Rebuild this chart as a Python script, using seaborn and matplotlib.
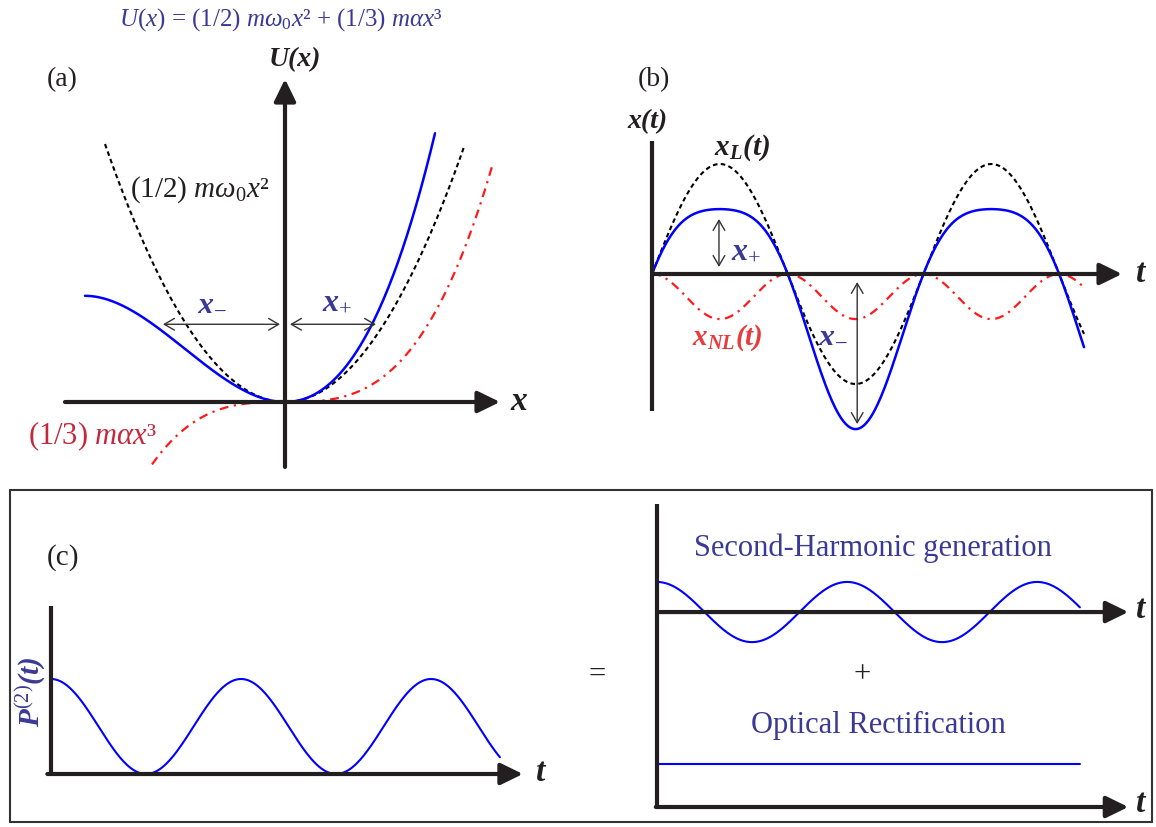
import numpy as np
import matplotlib.pyplot as plt
import seaborn as sns
from matplotlib.patches import Rectangle

# figure size in pixels
W, H = 1156, 828

# ---- (a) potential U(x) = (1/2) x^2 + (alpha/3) x^3, reduced units ----
A_ALPHA = 1.0
A_SPAN_HARM = (-0.90, 0.895)     # black dashed, harmonic part
A_SPAN_TOTAL = (-1.00, 0.75)     # blue, full potential
A_SPAN_CUBIC = (-0.665, 1.035)   # red dash-dot, cubic part
A_XMINUS = (-0.61, -0.025)       # extent of x- arrow
A_XPLUS = (0.025, 0.455)         # extent of x+ arrow
A_ARROW_LEVEL = 0.122

# ---- (b) displacement x(t) = x_L + x_NL ----
B_AMP_L = 1.0
B_AMP_NL = 0.41
B_SPAN = (0.0, 10.0)
B_SPAN_NL = (0.0, 10.0)
B_XPLUS = (1.55, 0.50, 0.064)    # t, from, to
B_XMINUS = (4.75, -0.073, -1.364)

# ---- (c) P2(t) = cos^2 t = 1/2 + 1/2 cos 2t ----
C_SPAN_P = (0.0, 7.42)
C_SPAN_R = (0.0, 6.99)
C_SHG_BASE = 2.267
C_SHG_AMP = 0.35
C_OR_LEVEL = 0.5

BLUE = '#0000ff'
RED = '#ff1a1a'
INK = '#231f20'
NAVY = '#3a3a96'

sns.set_style('white')
plt.rcParams['font.family'] = ['Liberation Serif', 'DejaVu Serif']
plt.rcParams['mathtext.fontset'] = 'custom'
plt.rcParams['mathtext.rm'] = 'Liberation Serif'
plt.rcParams['mathtext.it'] = 'Liberation Serif:italic'
plt.rcParams['mathtext.bf'] = 'Liberation Serif:bold'
plt.rcParams['mathtext.bfit'] = 'Liberation Serif:bold:italic'

fig = plt.figure(figsize=(W / 100, H / 100), dpi=100)


def panel(box, origin, sx, sy):
    # axes laid over a pixel box, data unit = sx / sy pixels
    x0, y0, x1, y1 = box
    ox, oy = origin
    ax = fig.add_axes([x0 / W, 1 - y1 / H, (x1 - x0) / W, (y1 - y0) / H])
    ax.set_xlim((x0 - ox) / sx, (x1 - ox) / sx)
    ax.set_ylim((oy - y1) / sy, (oy - y0) / sy)
    ax.axis('off')
    return ax


def curve(ax, x, y, **kw):
    sns.lineplot(x=x, y=y, ax=ax, sort=False, estimator=None, legend=False, **kw)


def axis_arrow(ax, start, tip, lw=3):
    ax.annotate('', xy=tip, xytext=start, annotation_clip=False,
                arrowprops=dict(arrowstyle='-|>,head_length=0.45,head_width=0.22',
                                mutation_scale=30, lw=lw, color=INK,
                                shrinkA=0, shrinkB=0))


def dim_arrow(ax, start, end):
    ax.annotate('', xy=end, xytext=start, annotation_clip=False,
                arrowprops=dict(arrowstyle='<->,head_length=0.6,head_width=0.35',
                                mutation_scale=12, lw=1, color='#333333',
                                shrinkA=0, shrinkB=0))


def label(x, y, s, **kw):
    kw.setdefault('ha', 'center')
    kw.setdefault('va', 'center')
    fig.text(x / W, 1 - y / H, s, **kw)


BOLD_IT = dict(fontweight='bold', style='italic')

# (a)
ax_a = panel((15, 40, 550, 485), (285, 403), 200, 637)
x = np.linspace(*A_SPAN_HARM, 300)
curve(ax_a, x, x ** 2 / 2, color='black', linewidth=1.5, linestyle=(0, (2.2, 1.6)))
x = np.linspace(*A_SPAN_TOTAL, 300)
curve(ax_a, x, x ** 2 / 2 + A_ALPHA * x ** 3 / 3, color=BLUE, linewidth=1.8)
x = np.linspace(*A_SPAN_CUBIC, 300)
curve(ax_a, x, A_ALPHA * x ** 3 / 3, color=RED, linewidth=1.6,
      linestyle=(0, (4, 2.5, 1, 2.5)))
axis_arrow(ax_a, (-1.1, 0), (1.075, 0))
axis_arrow(ax_a, (0, -0.102), (0, 0.507))
dim_arrow(ax_a, (A_XMINUS[0], A_ARROW_LEVEL), (A_XMINUS[1], A_ARROW_LEVEL))
dim_arrow(ax_a, (A_XPLUS[0], A_ARROW_LEVEL), (A_XPLUS[1], A_ARROW_LEVEL))

label(281, 20, r'$\mathit{U(x)}$ = (1/2) $m\omega_0x$² + (1/3) $m\alpha x$³',
      fontsize=18, color=NAVY)
label(295, 60, 'U(x)', fontsize=20, color=INK, **BOLD_IT)
label(62, 80, '(a)', fontsize=20, color=INK)
label(519, 402, 'x', fontsize=24, color=INK, **BOLD_IT)
label(130, 190, r'(1/2) $m\omega_0x$²', fontsize=21, color=INK, ha='left')
label(28, 436, r'(1/3) $m\alpha x$³', fontsize=22, color='#c4283c', ha='left')
label(212, 302, r'$\mathbfit{x}_{-}$', fontsize=23, color=NAVY)
label(337, 302, r'$\mathbfit{x}_{+}$', fontsize=23, color=NAVY)

# (b)
ax_b = panel((600, 90, 1160, 445), (652, 275), 43.2, 110)
t = np.linspace(*B_SPAN, 400)
x_l = B_AMP_L * np.sin(t)
curve(ax_b, t, x_l, color='black', linewidth=1.5, linestyle=(0, (2.2, 1.6)))
curve(ax_b, t, x_l - B_AMP_NL * np.sin(t) ** 2, color=BLUE, linewidth=1.8)
t = np.linspace(*B_SPAN_NL, 400)
curve(ax_b, t, -B_AMP_NL * np.sin(t) ** 2, color=RED, linewidth=1.6,
      linestyle=(0, (4, 2.5, 1, 2.5)))
ax_b.plot([0, 0], [-1.245, 1.21], color=INK, lw=3, solid_capstyle='butt')
axis_arrow(ax_b, (0, 0), (10.88, 0))
dim_arrow(ax_b, (B_XPLUS[0], B_XPLUS[1]), (B_XPLUS[0], B_XPLUS[2]))
dim_arrow(ax_b, (B_XMINUS[0], B_XMINUS[1]), (B_XMINUS[0], B_XMINUS[2]))

label(654, 80, '(b)', fontsize=20, color=INK)
label(647, 122, 'x(t)', fontsize=20, color=INK, **BOLD_IT)
label(742, 148, r'$\mathbfit{x}_{\mathbfit{L}}\mathbfit{(t)}$', fontsize=21, color=INK)
label(746, 251, r'$\mathbfit{x}_{+}$', fontsize=23, color=NAVY)
label(833, 335, r'$\mathbfit{x}_{-}$', fontsize=23, color=NAVY)
label(727, 338, r'$\mathbfit{x}_{\mathbfit{NL}}\mathbfit{(t)}$', fontsize=21, color='#e83c3c')
label(1141, 274, 't', fontsize=24, color=INK, **BOLD_IT)

# (c) frame
fig.add_artist(Rectangle((10 / W, 1 - 823 / H), 1142 / W, 332 / H, transform=fig.transFigure,
                         fill=False, edgecolor='#333333', linewidth=1.5))

ax_c = panel((20, 590, 560, 800), (51, 775), 60.5, 95)
t = np.linspace(*C_SPAN_P, 400)
curve(ax_c, t, np.cos(t) ** 2, color=BLUE, linewidth=1.5)
ax_c.plot([0, 0], [0, 1.77], color=INK, lw=3, solid_capstyle='butt')
axis_arrow(ax_c, (-0.06, 0), (7.8, 0))
label(63, 558, '(c)', fontsize=21, color=INK)
label(31, 692, r'$\mathbfit{P}^{(2)}\mathbfit{(t)}$', fontsize=21, color=NAVY, rotation=90)
label(541, 773, 't', fontsize=24, color=INK, **BOLD_IT)
label(597, 675, '=', fontsize=22, color=INK)

ax_r = panel((620, 495, 1160, 823), (657, 808), 60.5, 86)
t = np.linspace(*C_SPAN_R, 400)
curve(ax_r, t, C_SHG_BASE + C_SHG_AMP * np.cos(2 * t), color=BLUE, linewidth=1.5)
curve(ax_r, t, np.full_like(t, C_OR_LEVEL), color=BLUE, linewidth=1.5)
ax_r.plot([0, 0], [0, 3.52], color=INK, lw=3, solid_capstyle='butt')
axis_arrow(ax_r, (0, C_SHG_BASE), (7.79, C_SHG_BASE))
axis_arrow(ax_r, (-0.02, 0), (7.79, 0))
label(1141, 609, 't', fontsize=24, color=INK, **BOLD_IT)
label(1141, 804, 't', fontsize=24, color=INK, **BOLD_IT)
label(873, 548, 'Second-Harmonic generation', fontsize=22, color=NAVY)
label(862, 675, '+', fontsize=22, color=INK)
label(878, 725, 'Optical Rectification', fontsize=22, color=NAVY)

fig.savefig('out.png', dpi=100)
